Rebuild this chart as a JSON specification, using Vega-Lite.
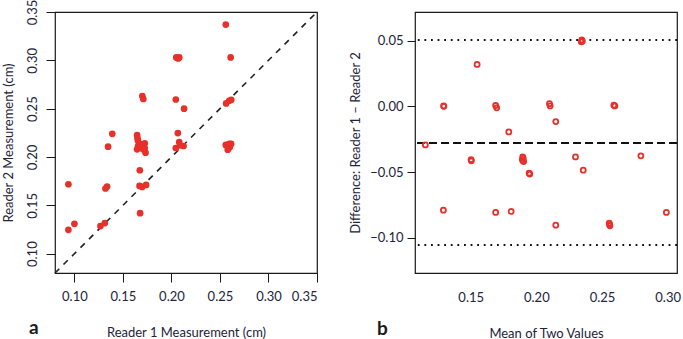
{
  "$schema": "https://vega.github.io/schema/vega-lite/v6.json",
  "padding": {"left": 1, "top": -2, "right": 2, "bottom": 0},
  "spacing": 28,
  "config": {
    "font": "Lato",
    "view": {"stroke": "#1a1a1a", "strokeWidth": 1.2},
    "axis": {"domain": false, "grid": false, "labelFont": "Lato", "labelFontSize": 13, "labelColor": "#23233a", "titleFont": "Lato", "titleFontSize": 13, "titleFontWeight": "normal", "titleColor": "#23233a", "tickColor": "#1a1a1a", "tickSize": 9, "tickWidth": 1},
    "title": {"font": "Lato", "fontSize": 19, "fontWeight": "bold", "color": "#1a1a1a", "orient": "bottom", "anchor": "start", "frame": "group"}
  },
  "datasets": {
    "readers": [
      {"reader1": 0.256, "reader2": 0.337}, {"reader1": 0.261, "reader2": 0.303},
      {"reader1": 0.205, "reader2": 0.303}, {"reader1": 0.207, "reader2": 0.302},
      {"reader1": 0.208, "reader2": 0.303}, {"reader1": 0.170, "reader2": 0.263},
      {"reader1": 0.171, "reader2": 0.260}, {"reader1": 0.2045, "reader2": 0.2595},
      {"reader1": 0.213, "reader2": 0.250}, {"reader1": 0.139, "reader2": 0.224},
      {"reader1": 0.1646, "reader2": 0.2227}, {"reader1": 0.165, "reader2": 0.2196},
      {"reader1": 0.1655, "reader2": 0.2169}, {"reader1": 0.2066, "reader2": 0.2248},
      {"reader1": 0.1347, "reader2": 0.2107}, {"reader1": 0.1656, "reader2": 0.2113},
      {"reader1": 0.1646, "reader2": 0.2079}, {"reader1": 0.1691, "reader2": 0.213},
      {"reader1": 0.1708, "reader2": 0.2079}, {"reader1": 0.1725, "reader2": 0.2141},
      {"reader1": 0.1733, "reader2": 0.2045}, {"reader1": 0.1725, "reader2": 0.2093},
      {"reader1": 0.2045, "reader2": 0.2093}, {"reader1": 0.2087, "reader2": 0.2121},
      {"reader1": 0.2125, "reader2": 0.2114}, {"reader1": 0.208, "reader2": 0.2155},
      {"reader1": 0.1674, "reader2": 0.1863}, {"reader1": 0.0938, "reader2": 0.1718},
      {"reader1": 0.132, "reader2": 0.1674}, {"reader1": 0.1337, "reader2": 0.1695},
      {"reader1": 0.1671, "reader2": 0.1701}, {"reader1": 0.1698, "reader2": 0.169},
      {"reader1": 0.1739, "reader2": 0.1711}, {"reader1": 0.1677, "reader2": 0.1419},
      {"reader1": 0.100, "reader2": 0.1309}, {"reader1": 0.0938, "reader2": 0.1247},
      {"reader1": 0.1268, "reader2": 0.1285}, {"reader1": 0.1313, "reader2": 0.1316},
      {"reader1": 0.2564, "reader2": 0.2554}, {"reader1": 0.2595, "reader2": 0.2582},
      {"reader1": 0.2616, "reader2": 0.2592}, {"reader1": 0.256, "reader2": 0.2125},
      {"reader1": 0.2595, "reader2": 0.2135}, {"reader1": 0.2615, "reader2": 0.2135},
      {"reader1": 0.258, "reader2": 0.2075}, {"reader1": 0.26, "reader2": 0.210}
    ],
    "ba": [
      {"mean": 0.1155, "diff": -0.0294}, {"mean": 0.1294, "diff": 0.0003},
      {"mean": 0.1296, "diff": 0.0}, {"mean": 0.1549, "diff": 0.0318},
      {"mean": 0.169, "diff": 0.0006}, {"mean": 0.1698, "diff": -0.0012},
      {"mean": 0.179, "diff": -0.0195}, {"mean": 0.210, "diff": 0.002},
      {"mean": 0.2105, "diff": 0.0003}, {"mean": 0.2148, "diff": -0.0116},
      {"mean": 0.2346, "diff": 0.0505}, {"mean": 0.2350, "diff": 0.0495},
      {"mean": 0.2342, "diff": 0.0490}, {"mean": 0.259, "diff": 0.0008},
      {"mean": 0.2598, "diff": 0.0003}, {"mean": 0.1503, "diff": -0.0405},
      {"mean": 0.1505, "diff": -0.0415}, {"mean": 0.1896, "diff": -0.0385},
      {"mean": 0.1900, "diff": -0.0395}, {"mean": 0.1893, "diff": -0.0405},
      {"mean": 0.1898, "diff": -0.0415}, {"mean": 0.1903, "diff": -0.0420},
      {"mean": 0.2298, "diff": -0.0385}, {"mean": 0.2796, "diff": -0.0377},
      {"mean": 0.1945, "diff": -0.0509}, {"mean": 0.1950, "diff": -0.0515},
      {"mean": 0.2357, "diff": -0.0486}, {"mean": 0.1292, "diff": -0.079},
      {"mean": 0.169, "diff": -0.0807}, {"mean": 0.1808, "diff": -0.080},
      {"mean": 0.2148, "diff": -0.0904}, {"mean": 0.2555, "diff": -0.0889},
      {"mean": 0.2560, "diff": -0.0909}, {"mean": 0.2558, "diff": -0.0900},
      {"mean": 0.299, "diff": -0.0807}
    ]
  },
  "hconcat": [
    {
      "width": 262, "height": 261,
      "title": {"text": "a", "dx": -26, "offset": -20},
      "layer": [
        {
          "data": {"values": [{"v": 0.08}, {"v": 0.35}]},
          "mark": {"type": "line", "strokeDash": [6, 6], "color": "#222222", "strokeWidth": 1.6},
          "encoding": {
            "x": {"field": "v", "type": "quantitative", "scale": {"domain": [0.08, 0.35], "nice": false, "zero": false},
                  "axis": {"values": [0.10, 0.15, 0.20, 0.25, 0.30, 0.35], "format": ".2f", "labelPadding": 8, "title": "Reader 1 Measurement (cm)", "titlePadding": 23}},
            "y": {"field": "v", "type": "quantitative", "scale": {"domain": [0.08, 0.35], "nice": false, "zero": false},
                  "axis": {"values": [0.10, 0.15, 0.20, 0.25, 0.30, 0.35], "format": ".2f", "labelAngle": 270, "labelAlign": "center", "labelBaseline": "bottom", "labelPadding": 7, "title": "Reader 2 Measurement (cm)", "titlePadding": 11}}
          }
        },
        {
          "data": {"name": "readers"},
          "mark": {"type": "circle", "size": 45, "color": "#e8302a", "opacity": 1},
          "encoding": {
            "x": {"field": "reader1", "type": "quantitative"},
            "y": {"field": "reader2", "type": "quantitative"}
          }
        }
      ]
    },
    {
      "width": 262, "height": 261,
      "title": {"text": "b", "dx": -38, "offset": -20},
      "layer": [
        {
          "data": {"values": [{}]},
          "mark": {"type": "rule", "strokeDash": [1.8, 4.8], "strokeWidth": 2, "color": "#111111"},
          "encoding": {"y": {"datum": 0.0505, "type": "quantitative"}}
        },
        {
          "data": {"values": [{}]},
          "mark": {"type": "rule", "strokeDash": [1.8, 4.8], "strokeWidth": 2, "color": "#111111"},
          "encoding": {"y": {"datum": -0.1055, "type": "quantitative"}}
        },
        {
          "data": {"values": [{}]},
          "mark": {"type": "rule", "strokeDash": [8, 4], "strokeWidth": 2, "color": "#111111"},
          "encoding": {"y": {"datum": -0.028, "type": "quantitative"}}
        },
        {
          "data": {"name": "ba"},
          "mark": {"type": "point", "shape": "circle", "size": 25, "filled": false, "color": "#e8302a", "strokeWidth": 1.8, "opacity": 1},
          "encoding": {
            "x": {"field": "mean", "type": "quantitative", "scale": {"domain": [0.1076, 0.3071], "nice": false, "zero": false},
                  "axis": {"values": [0.15, 0.20, 0.25, 0.30], "format": ".2f", "ticks": false, "labelPadding": 18, "title": "Mean of Two Values", "titlePadding": 23}},
            "y": {"field": "diff", "type": "quantitative", "scale": {"domain": [-0.1268, 0.0717], "nice": false, "zero": false},
                  "axis": {"values": [-0.10, -0.05, 0.0, 0.05], "format": ".2f", "labelExpr": "replace(datum.label, '-', '−')", "tickSize": 8, "labelPadding": 4, "title": "Difference: Reader 1 – Reader 2", "titlePadding": 7}}
          }
        }
      ]
    }
  ]
}
